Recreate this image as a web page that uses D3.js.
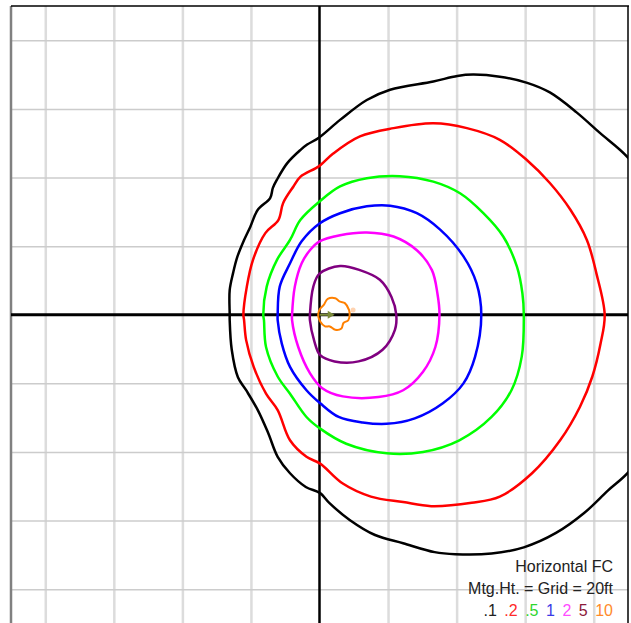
<!DOCTYPE html>
<html>
<head>
<meta charset="utf-8">
<script src="https://d3js.org/d3.v7.min.js"></script>
<style>
body { margin: 0; background: #fff; }
text { font-family: "Liberation Sans", Arial, sans-serif; }
</style>
</head>
<body>
<div id="chart"></div>
<script>
// isofootcandle lines, coordinates in mounting heights (1 grid = 20ft)
var levels = [".1", ".2", ".5", "1", "2", "5", "10"];
var lineColors = ["#000000", "#ff0000", "#00ff00", "#0000ff", "#ff00ff", "#800080", "#ff8000"];
var labelColors = ["#222222", "#ff2a2a", "#2ed62e", "#3a3ae6", "#ff4cff", "#8b1a3a", "#ff8a2a"];
var gridTicks = [-4, -3, -2, -1, 1, 2, 3, 4];
var titleLines = ["Horizontal FC", "Mtg.Ht. = Grid = 20ft"];

var fc01 = [[-1.31,0],[-1.31,0.36],[-1.26,0.61],[-1.20,0.84],[-1.10,1.09],[-1.01,1.28],[-0.90,1.53],
  [-0.72,1.70],[-0.68,1.85],[-0.62,1.97],[-0.47,2.21],[-0.28,2.40],[-0.18,2.48],[-0.01,2.58],[0.30,2.84],
  [0.69,3.13],[1.03,3.28],[1.66,3.40],[2.01,3.48],[2.24,3.50],[2.63,3.47],[3.03,3.38],[3.36,3.24],
  [3.75,2.95],[4.09,2.65],[4.50,2.29],[4.82,1.82],[5.04,0.94],[5.08,0],[5.04,-0.95],[4.82,-1.83],
  [4.51,-2.29],[4.21,-2.56],[3.86,-2.89],[3.45,-3.18],[2.98,-3.39],[2.51,-3.48],[1.98,-3.49],[1.68,-3.46],
  [1.22,-3.33],[0.81,-3.21],[0.44,-2.99],[0.15,-2.75],[0.01,-2.60],[-0.20,-2.51],[-0.43,-2.31],
  [-0.61,-2.07],[-0.75,-1.72],[-0.90,-1.39],[-1.07,-1.10],[-1.19,-0.91],[-1.28,-0.51],[-1.31,-0.08]];
var fc02 = [[-1.11,0],[-1.06,0.41],[-0.97,0.80],[-0.79,1.19],[-0.60,1.38],[-0.53,1.63],[-0.38,1.87],
  [-0.28,2.01],[0,2.17],[0.20,2.35],[0.59,2.60],[1.08,2.72],[1.66,2.79],[2.15,2.72],[2.63,2.55],
  [3.02,2.26],[3.36,1.92],[3.66,1.53],[3.90,1.09],[4.04,0.60],[4.16,0],[4.10,-0.42],[3.98,-0.90],
  [3.80,-1.34],[3.51,-1.83],[3.10,-2.31],[2.63,-2.65],[2.22,-2.74],[1.63,-2.79],[1.22,-2.73],
  [0.75,-2.65],[0.34,-2.46],[0.01,-2.17],[-0.19,-2.07],[-0.43,-1.83],[-0.61,-1.39],[-0.78,-1.15],
  [-0.96,-0.76],[-1.07,-0.37],[-1.10,-0.08]];
var fc05 = [[-0.82,0],[-0.77,0.41],[-0.62,0.80],[-0.43,1.09],[-0.28,1.38],[0,1.65],[0.30,1.87],
  [0.69,1.99],[1.17,2.02],[1.66,1.94],[2.05,1.77],[2.39,1.48],[2.68,1.14],[2.88,0.70],[2.96,0.31],
  [2.98,0],[2.95,-0.61],[2.80,-1.10],[2.51,-1.49],[2.04,-1.83],[1.51,-2.00],[0.98,-2.02],[0.39,-1.88],
  [0.01,-1.66],[-0.19,-1.49],[-0.43,-1.15],[-0.61,-0.90],[-0.78,-0.47],[-0.81,-0.08]];
var fc1 = [[-0.61,0],[-0.58,0.41],[-0.43,0.75],[-0.26,1.07],[0,1.33],[0.30,1.48],[0.69,1.58],
  [1.03,1.59],[1.42,1.48],[1.76,1.24],[2.10,0.85],[2.29,0.46],[2.36,0],[2.27,-0.61],[2.10,-1.00],
  [1.80,-1.29],[1.39,-1.51],[0.98,-1.59],[0.63,-1.57],[0.28,-1.49],[0.01,-1.29],[-0.19,-1.10],
  [-0.43,-0.76],[-0.55,-0.42],[-0.61,-0.08]];
var fc2 = [[-0.40,0],[-0.36,0.41],[-0.26,0.75],[-0.14,0.94],[0,1.07],[0.30,1.16],[0.69,1.20],
  [1.08,1.14],[1.42,0.94],[1.64,0.65],[1.72,0.31],[1.75,0],[1.69,-0.47],[1.51,-0.83],[1.22,-1.10],
  [0.86,-1.20],[0.34,-1.19],[0.04,-1.07],[-0.14,-0.85],[-0.31,-0.47],[-0.40,-0.08]];
var fc5 = [[-0.14,0],[-0.09,0.41],[0,0.60],[0.30,0.71],[0.59,0.65],[0.88,0.51],[1.05,0.26],[1.12,0],
  [1.10,-0.22],[0.92,-0.51],[0.57,-0.68],[0.22,-0.68],[0.01,-0.59],[-0.08,-0.37],[-0.14,-0.08]];
var fc10 = [[-0.02,0],[0.01,0.09],[0.06,0.14],[0.12,0.23],[0.23,0.24],[0.30,0.19],[0.37,0.17],
  [0.43,0.07],[0.44,0],[0.42,-0.08],[0.35,-0.12],[0.32,-0.20],[0.23,-0.22],[0.15,-0.17],[0.08,-0.17],
  [0.01,-0.10]];
var contours = [fc01, fc02, fc05, fc1, fc2, fc5, fc10];

var width = 631, height = 623;
var x = d3.scaleLinear().domain([-4.5, 4.5]).range([11, 628]);
var y = d3.scaleLinear().domain([-4.5, 4.5]).range([623.5, 6]);

var svg = d3.select("#chart").append("svg")
    .attr("width", width)
    .attr("height", height);

svg.append("clipPath").attr("id", "plot")
  .append("rect")
    .attr("x", x(-4.5)).attr("y", y(4.5))
    .attr("width", x(4.5) - x(-4.5)).attr("height", y(-4.5) - y(4.5));

// grid
var gx = svg.append("g")
    .attr("transform", "translate(0," + y(4.5) + ")")
    .call(d3.axisBottom(x).tickValues(gridTicks).tickSize(y(-4.5) - y(4.5)).tickFormat(""));
gx.select(".domain").remove();
gx.selectAll(".tick line").attr("stroke", "#dcdcdc").attr("stroke-width", 2.5);

var gy = svg.append("g")
    .attr("transform", "translate(" + x(-4.5) + ",0)")
    .call(d3.axisRight(y).tickValues(gridTicks).tickSize(x(4.5) - x(-4.5)).tickFormat(""));
gy.select(".domain").remove();
gy.selectAll(".tick line").attr("stroke", "#cccccc").attr("stroke-width", 1.5);

// frame
svg.append("line").attr("x1", x(-4.5)).attr("x2", x(-4.5)).attr("y1", y(4.5)).attr("y2", height)
    .attr("stroke", "#808080").attr("stroke-width", 2.5);
svg.append("line").attr("x1", x(-4.5)).attr("x2", x(4.5) + 1).attr("y1", y(4.5)).attr("y2", y(4.5))
    .attr("stroke", "#000").attr("stroke-width", 1.5);
svg.append("line").attr("x1", x(4.5)).attr("x2", x(4.5)).attr("y1", y(4.5)).attr("y2", height)
    .attr("stroke", "#000").attr("stroke-width", 1.5);

// main axes through the luminaire
svg.append("line").attr("x1", x(-4.5)).attr("x2", x(4.5)).attr("y1", y(0)).attr("y2", y(0))
    .attr("stroke", "#000").attr("stroke-width", 3);
svg.append("line").attr("x1", x(0)).attr("x2", x(0)).attr("y1", y(4.5)).attr("y2", height)
    .attr("stroke", "#000").attr("stroke-width", 2.5);

var line = d3.line()
    .x(function(d) { return x(d[0]); })
    .y(function(d) { return y(d[1]); })
    .curve(d3.curveCatmullRomClosed);

svg.append("g").attr("clip-path", "url(#plot)")
  .selectAll("path")
  .data(contours)
  .enter().append("path")
    .attr("d", line)
    .attr("fill", "none")
    .attr("stroke", function(d, i) { return lineColors[i]; })
    .attr("stroke-width", function(d, i) { return i == 6 ? 2 : 2.5; });

// aiming arrow
svg.append("line").attr("x1", x(0)).attr("x2", x(0.17)).attr("y1", y(0)).attr("y2", y(0))
    .attr("stroke", "#7a8a3a").attr("stroke-width", 2);
svg.append("path")
    .attr("d", "M" + x(0.22) + "," + y(0) + "L" + x(0.12) + "," + (y(0) - 4) + "L" + x(0.12) + "," + (y(0) + 4) + "Z")
    .attr("fill", "#7a8a3a");
svg.append("circle").attr("cx", x(0.49)).attr("cy", y(0.07)).attr("r", 2.5).attr("fill", "#ffd3b0");

// note in the corner
svg.selectAll(".note")
  .data(titleLines)
  .enter().append("text")
    .attr("class", "note")
    .attr("x", 613)
    .attr("y", function(d, i) { return 572 + i * 21.5; })
    .attr("text-anchor", "end")
    .attr("font-size", "16px")
    .attr("fill", "#222")
    .text(function(d) { return d; });

var key = svg.append("text")
    .attr("x", 613)
    .attr("y", 616)
    .attr("text-anchor", "end")
    .attr("font-size", "16px");
key.selectAll("tspan")
  .data(levels)
  .enter().append("tspan")
    .attr("dx", function(d, i) { return i > 0 ? 7.5 : 0; })
    .attr("fill", function(d, i) { return labelColors[i]; })
    .text(function(d) { return d; });
</script>
</body>
</html>
